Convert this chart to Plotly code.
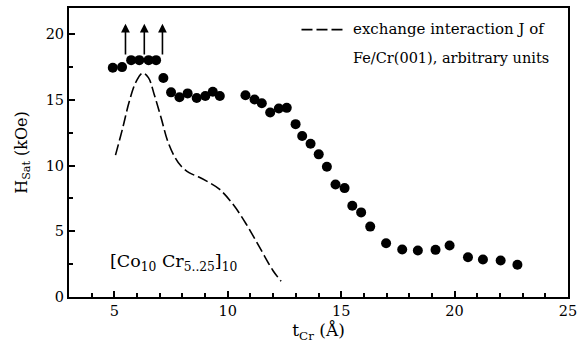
import plotly.graph_objects as go

# Measured H_sat data (kOe) vs t_Cr (Å)
t_cr = [4.93, 5.34, 5.74, 6.10, 6.51, 6.84, 7.16, 7.50, 7.87, 8.23, 8.63, 9.01, 9.34, 9.65,
        10.78, 11.18, 11.50, 11.87, 12.25, 12.60, 12.99, 13.28, 13.65, 14.01, 14.37,
        14.75, 15.15, 15.49, 15.88, 16.28, 16.98, 17.69, 18.38, 19.16, 19.78, 20.59,
        21.25, 22.03, 22.77]
h_sat = [17.45, 17.5, 18.03, 18.03, 18.03, 18.03, 16.67, 15.58, 15.2, 15.5, 15.15, 15.3,
         15.62, 15.3, 15.36, 15.03, 14.75, 14.05, 14.35, 14.4, 13.16, 12.25, 11.67, 10.86,
         9.92, 8.56, 8.29, 6.95, 6.44, 5.36, 4.09, 3.61, 3.54, 3.59, 3.92, 3.03, 2.86,
         2.78, 2.45]

# Exchange interaction J (arbitrary units), dashed curve
j_x = [5.05, 5.37, 5.66, 5.96, 6.25, 6.50, 6.76, 7.06, 7.35, 7.65, 7.95, 8.31, 8.70,
       9.05, 9.63, 10.22, 10.81, 11.40, 11.99, 12.35]
j_y = [10.8, 12.88, 14.9, 16.4, 17.05, 16.7, 15.4, 13.64, 11.87, 10.7, 9.95, 9.45,
       9.15, 8.84, 8.21, 7.08, 5.56, 3.79, 2.02, 1.2]

# Arrows marking lower bounds
arrow_x = [5.49, 6.32, 7.12]
arrow_from = 18.35
arrow_to = 20.8

# Legend sample line
legend_x = [13.25, 15.2]
legend_y = [20.35, 20.35]

x_ticks = [5, 10, 15, 20, 25]
y_ticks = [0, 5, 10, 15, 20]

FONT = "DejaVu Serif"

fig = go.Figure()
fig.add_trace(go.Scatter(x=j_x, y=j_y, mode="lines",
                         line=dict(color="black", width=1.6, dash="11px,4px", shape="spline"),
                         showlegend=False, hoverinfo="skip"))
fig.add_trace(go.Scatter(x=t_cr, y=h_sat, mode="markers", marker=dict(color="black", size=10),
                         showlegend=False))
fig.add_trace(go.Scatter(x=legend_x, y=legend_y, mode="lines",
                         line=dict(color="black", width=1.6, dash="11px,4px"),
                         showlegend=False, hoverinfo="skip"))

for ax_ in arrow_x:
    fig.add_annotation(x=ax_, y=arrow_to, ax=ax_, ay=arrow_from, xref="x", yref="y", axref="x", ayref="y",
                       showarrow=True, arrowhead=2, arrowsize=1.1, arrowwidth=1.6, arrowcolor="black", text="")

fig.add_annotation(x=15.45, y=20.4, xref="x", yref="y", text="exchange interaction J of", showarrow=False,
                   xanchor="left", yanchor="middle", font=dict(family=FONT, size=15, color="black"))
fig.add_annotation(x=15.45, y=18.2, xref="x", yref="y", text="Fe/Cr(001), arbitrary units", showarrow=False,
                   xanchor="left", yanchor="middle", font=dict(family=FONT, size=14.5, color="black"))
fig.add_annotation(x=4.7, y=2.6, xref="x", yref="y", text="[Co<sub>10</sub> Cr<sub>5..25</sub>]<sub>10</sub>",
                   showarrow=False, xanchor="left", yanchor="middle", font=dict(family=FONT, size=17.5, color="black"))

axis_common = dict(showline=True, linecolor="black", linewidth=2, mirror=True, showgrid=False, zeroline=False,
                   ticks="inside", ticklen=6, tickwidth=1.5, tickcolor="black",
                   tickfont=dict(family=FONT, size=14.5, color="black"))

fig.update_xaxes(range=[3, 25], tickvals=x_ticks, ticktext=[str(v) for v in x_ticks],
                 minor=dict(dtick=1, ticks="inside", ticklen=4, tickwidth=1.5, tickcolor="black", tick0=0),
                 title=dict(text="t<sub>Cr</sub> (Å)", font=dict(family=FONT, size=17, color="black"), standoff=6),
                 **axis_common)
fig.update_yaxes(range=[0, 22], tickvals=y_ticks, ticktext=[str(v) for v in y_ticks],
                 minor=dict(dtick=2.5, ticks="inside", ticklen=4, tickwidth=1.5, tickcolor="black", tick0=0),
                 title=dict(text="H<sub>Sat</sub> (kOe)", font=dict(family=FONT, size=16, color="black"), standoff=14),
                 **axis_common)

fig.update_layout(width=586, height=350, margin=dict(l=69, r=18, t=6, b=53),
                  plot_bgcolor="white", paper_bgcolor="white", font=dict(family=FONT, color="black"))

fig.write_html("out.html")
